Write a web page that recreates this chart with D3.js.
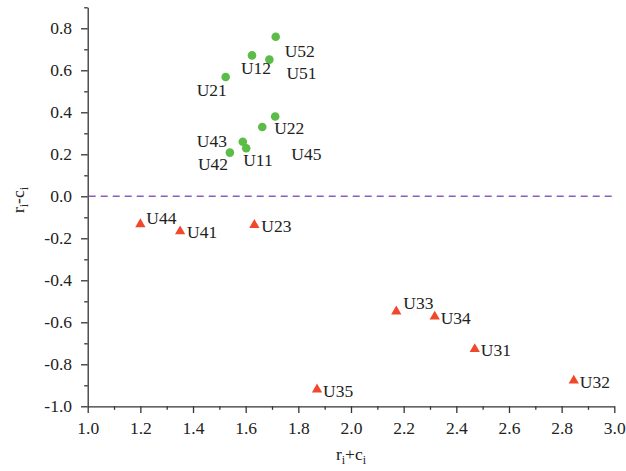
<!DOCTYPE html>
<html>
<head>
<meta charset="utf-8">
<script src="https://cdn.jsdelivr.net/npm/d3@7"></script>
<style>
  body { margin: 0; background: #fff; }
  svg { display: block; }
  text { font-family: "Liberation Serif", "Times New Roman", Times, serif; fill: #222; }
</style>
</head>
<body>
<svg id="chart" width="626" height="471"></svg>
<script>
// ---- data ----
const greenLabels = ["U52", "U12", "U51", "U21", "U22", "U45", "U43", "U11", "U42"];
const greenX = [1.714, 1.624, 1.690, 1.524, 1.712, 1.663, 1.589, 1.602, 1.540];
const greenY = [0.760, 0.671, 0.651, 0.568, 0.380, 0.330, 0.260, 0.229, 0.208];

const redLabels = ["U44", "U41", "U23", "U33", "U34", "U31", "U32", "U35"];
const redX = [1.200, 1.351, 1.633, 2.172, 2.318, 2.470, 2.846, 1.871];
const redY = [-0.129, -0.163, -0.133, -0.545, -0.569, -0.724, -0.874, -0.916];

const xTicks = [1.0, 1.2, 1.4, 1.6, 1.8, 2.0, 2.2, 2.4, 2.6, 2.8, 3.0];
const yTicks = [-1.0, -0.8, -0.6, -0.4, -0.2, 0.0, 0.2, 0.4, 0.6, 0.8];
const xMinor = [1.1, 1.3, 1.5, 1.7, 1.9, 2.1, 2.3, 2.5, 2.7, 2.9];
const yMinor = [-0.9, -0.7, -0.5, -0.3, -0.1, 0.1, 0.3, 0.5, 0.7, 0.9];
const refLine = 0.0;

// ---- label placement (pixel offsets from the mark) ----
const greenLabelOffset = [[9, 20], [-11, 19], [17, 19], [-29, 19], [-1, 17], [29, 33], [-46, 5], [-3, 18], [-32, 17]];
const redLabelOffset = [[6, 1], [7, 7], [7, 8], [7, -1.5], [6, 8], [6, 8], [6, 8], [6, 8]];

// ---- layout ----
const FONT = '"Liberation Serif", "Times New Roman", Times, serif';
const svg = d3.select("#chart");
const x = d3.scaleLinear().domain([1.0, 3.0]).range([87.7, 614.3]);
const y = d3.scaleLinear().domain([-1.0, 0.9]).range([406.3, 7.3]);

const axisColor = "#333";
const fontSize = 17.5;

// minor ticks
svg.append("g").attr("transform", `translate(0,${y(-1.0)})`)
  .call(d3.axisBottom(x).tickValues(xMinor).tickSize(3.5).tickFormat(""))
  .call(g => g.select(".domain").remove())
  .call(g => g.selectAll("line").attr("stroke", axisColor).attr("stroke-width", 1.3));
svg.append("g").attr("transform", `translate(${x(1.0)},0)`)
  .call(d3.axisLeft(y).tickValues(yMinor).tickSize(3.5).tickFormat(""))
  .call(g => g.select(".domain").remove())
  .call(g => g.selectAll("line").attr("stroke", axisColor).attr("stroke-width", 1.3));

// major axes
const xAxis = svg.append("g").attr("transform", `translate(0,${y(-1.0)})`)
  .call(d3.axisBottom(x).tickValues(xTicks).tickSize(6.7).tickSizeOuter(0).tickPadding(9).tickFormat(d3.format(".1f")));
const yAxis = svg.append("g").attr("transform", `translate(${x(1.0)},0)`)
  .call(d3.axisLeft(y).tickValues(yTicks).tickSize(6.7).tickSizeOuter(0).tickPadding(9).tickFormat(d3.format(".1f")));

[xAxis, yAxis].forEach(g => {
  g.select(".domain").attr("stroke", axisColor).attr("stroke-width", 1.3);
  g.selectAll(".tick line").attr("stroke", axisColor).attr("stroke-width", 1.3);
  g.selectAll(".tick text")
    .attr("font-family", FONT)
    .attr("font-size", fontSize)
    .attr("fill", "#222")
    .text(d => d3.format(".1f")(d).replace("−", "-"));
});

// reference dashed line
svg.append("line")
  .attr("x1", x(1.0) + 1).attr("x2", x(3.0) - 1)
  .attr("y1", y(refLine)).attr("y2", y(refLine))
  .attr("stroke", "#8b5cc0").attr("stroke-width", 1.6)
  .attr("stroke-dasharray", "7,5");

// green points
const green = greenLabels.map((l, i) => ({ label: l, x: greenX[i], y: greenY[i], off: greenLabelOffset[i] }));
svg.append("g").selectAll("circle").data(green).join("circle")
  .attr("cx", d => x(d.x)).attr("cy", d => y(d.y)).attr("r", 4.3)
  .attr("fill", "#5cbc48");
svg.append("g").selectAll("text").data(green).join("text")
  .attr("x", d => x(d.x) + d.off[0]).attr("y", d => y(d.y) + d.off[1])
  .attr("font-family", FONT).attr("font-size", 17.5).text(d => d.label);

// red triangles
const red = redLabels.map((l, i) => ({ label: l, x: redX[i], y: redY[i], off: redLabelOffset[i] }));
const tri = d3.symbol().type(d3.symbolTriangle).size(46);
svg.append("g").selectAll("path").data(red).join("path")
  .attr("d", tri)
  .attr("transform", d => `translate(${x(d.x)},${y(d.y) + 0.8})`)
  .attr("fill", "#f0482a");
svg.append("g").selectAll("text").data(red).join("text")
  .attr("x", d => x(d.x) + d.off[0]).attr("y", d => y(d.y) + d.off[1])
  .attr("font-family", FONT).attr("font-size", 17.5).text(d => d.label);

// axis titles
const xt = svg.append("text")
  .attr("x", (x(1.0) + x(3.0)) / 2).attr("y", 460)
  .attr("text-anchor", "middle").attr("font-family", FONT).attr("font-size", 17.5);
xt.append("tspan").text("r");
xt.append("tspan").attr("font-size", 12).attr("dy", 4).text("i");
xt.append("tspan").attr("dy", -4).text("+c");
xt.append("tspan").attr("font-size", 12).attr("dy", 4).text("i");

const yt = svg.append("text")
  .attr("transform", "translate(24,200) rotate(-90)")
  .attr("text-anchor", "middle").attr("font-family", FONT).attr("font-size", 17.5);
yt.append("tspan").text("r");
yt.append("tspan").attr("font-size", 12).attr("dy", 4).text("i");
yt.append("tspan").attr("dy", -4).text("-c");
yt.append("tspan").attr("font-size", 12).attr("dy", 4).text("i");
</script>
</body>
</html>
